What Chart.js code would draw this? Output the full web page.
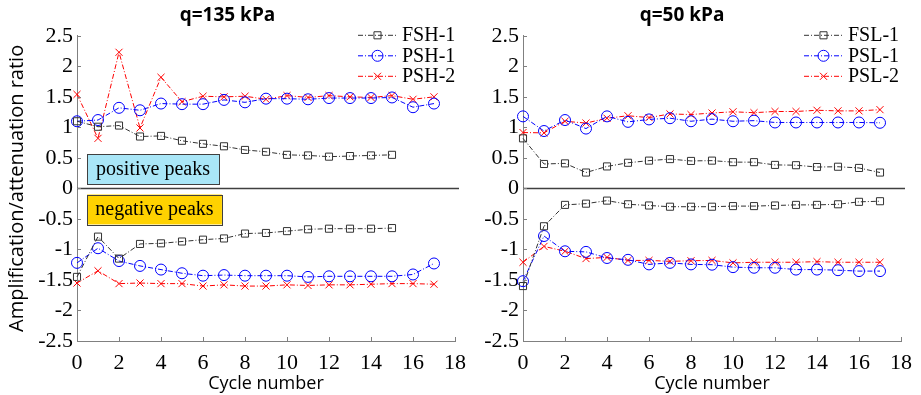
<!DOCTYPE html>
<html>
<head>
<meta charset="utf-8">
<script src="https://cdn.jsdelivr.net/npm/chart.js@4"></script>
<style>
  body { margin: 0; background: #fff; }
  #wrap { position: relative; width: 921px; height: 395px; }
  canvas { position: absolute; left: 0; top: 0; }
</style>
</head>
<body>
<div id="wrap">
  <canvas id="leftChart" width="921" height="395"></canvas>
  <canvas id="rightChart" width="921" height="395"></canvas>
</div>
<script>
// cycle numbers
const cycles = [0, 1, 2, 3, 4, 5, 6, 7, 8, 9, 10, 11, 12, 13, 14, 15, 16, 17];
const xTicks = [0, 2, 4, 6, 8, 10, 12, 14, 16, 18];
const yTicks = [-2.5, -2, -1.5, -1, -0.5, 0, 0.5, 1, 1.5, 2, 2.5];

// q=135 kPa
const fsh1Pos = [1.10, 1.01, 1.03, 0.85, 0.86, 0.78, 0.73, 0.69, 0.63, 0.60, 0.55, 0.54, 0.52, 0.53, 0.54, 0.55];
const fsh1Neg = [-1.45, -0.79, -1.15, -0.91, -0.90, -0.87, -0.84, -0.82, -0.74, -0.73, -0.70, -0.67, -0.66, -0.66, -0.66, -0.65];
const psh1Pos = [1.10, 1.12, 1.32, 1.28, 1.39, 1.38, 1.38, 1.45, 1.41, 1.47, 1.47, 1.46, 1.48, 1.48, 1.48, 1.49, 1.33, 1.39];
const psh1Neg = [-1.22, -0.98, -1.19, -1.27, -1.33, -1.39, -1.43, -1.42, -1.43, -1.43, -1.43, -1.45, -1.44, -1.44, -1.44, -1.44, -1.41, -1.23];
const psh2Pos = [1.54, 0.82, 2.23, 0.99, 1.82, 1.42, 1.51, 1.50, 1.51, 1.46, 1.52, 1.49, 1.52, 1.50, 1.49, 1.52, 1.46, 1.50];
const psh2Neg = [-1.55, -1.35, -1.56, -1.55, -1.56, -1.56, -1.60, -1.58, -1.60, -1.60, -1.58, -1.59, -1.58, -1.58, -1.57, -1.56, -1.56, -1.57];

// q=50 kPa
const fsl1Pos = [0.82, 0.40, 0.41, 0.26, 0.36, 0.42, 0.455, 0.48, 0.45, 0.455, 0.43, 0.43, 0.385, 0.38, 0.35, 0.355, 0.335, 0.26];
const fsl1Neg = [-1.60, -0.62, -0.27, -0.25, -0.20, -0.26, -0.28, -0.30, -0.30, -0.30, -0.29, -0.29, -0.28, -0.27, -0.27, -0.26, -0.22, -0.21];
const psl1Pos = [1.18, 0.94, 1.12, 0.98, 1.18, 1.09, 1.13, 1.15, 1.10, 1.135, 1.10, 1.11, 1.08, 1.08, 1.08, 1.08, 1.08, 1.075];
const psl1Neg = [-1.52, -0.78, -1.03, -1.04, -1.14, -1.17, -1.245, -1.22, -1.245, -1.25, -1.29, -1.30, -1.30, -1.33, -1.33, -1.34, -1.355, -1.355];
const psl2Pos = [0.915, 0.91, 1.10, 1.07, 1.15, 1.19, 1.16, 1.22, 1.21, 1.235, 1.255, 1.24, 1.26, 1.26, 1.28, 1.27, 1.27, 1.29];
const psl2Neg = [-1.21, -0.95, -1.03, -1.15, -1.13, -1.18, -1.18, -1.195, -1.185, -1.18, -1.22, -1.21, -1.21, -1.21, -1.20, -1.21, -1.21, -1.21];

const leftNames = ['FSH-1', 'PSH-1', 'PSH-2'];
const rightNames = ['FSL-1', 'PSL-1', 'PSL-2'];

const SERIF = '"Liberation Serif", "Times New Roman", serif';
const SANS = '"Open Sans", "Liberation Sans", sans-serif';
const DASHDOT = [5, 2, 1, 2];

const styles = [
  { color: '#333333', point: 'rect', r: 5 },
  { color: '#0000ff', point: 'circle', r: 5.5 },
  { color: '#ff0000', point: 'crossRot', r: 5 }
];

function toPoints(vals) {
  return vals.map(function(v, i) { return { x: cycles[i], y: v }; });
}

function makeSet(vals, st) {
  return {
    data: toPoints(vals),
    borderColor: st.color,
    borderWidth: 1,
    borderDash: DASHDOT,
    pointStyle: st.point,
    pointRadius: st.r,
    pointBorderColor: st.color,
    pointBackgroundColor: 'rgba(0,0,0,0)',
    pointBorderWidth: 1,
    tension: 0,
    clip: false
  };
}

function drawMarker(ctx, st, x, y) {
  ctx.save();
  ctx.setLineDash([]);
  ctx.strokeStyle = st.color;
  ctx.lineWidth = 1;
  ctx.beginPath();
  if (st.point === 'rect') {
    const s = st.r * Math.SQRT1_2;
    ctx.rect(x - s, y - s, 2 * s, 2 * s);
  } else if (st.point === 'circle') {
    ctx.arc(x, y, st.r, 0, Math.PI * 2);
  } else {
    const s = st.r * Math.SQRT1_2;
    ctx.moveTo(x - s, y - s); ctx.lineTo(x + s, y + s);
    ctx.moveTo(x - s, y + s); ctx.lineTo(x + s, y - s);
  }
  ctx.stroke();
  ctx.restore();
}

// inward tick marks, zero line, legend and peak labels
const decorPlugin = {
  id: 'decor',
  afterDatasetsDraw: function(chart, args, opts) {
    const ctx = chart.ctx;
    const xs = chart.scales.x, ys = chart.scales.y;
    const area = chart.chartArea;
    ctx.save();
    // zero line
    ctx.strokeStyle = '#404040';
    ctx.lineWidth = 1.5;
    ctx.beginPath();
    const y0 = Math.round(ys.getPixelForValue(0)) + 0.5;
    ctx.moveTo(area.left, y0);
    ctx.lineTo(xs.getPixelForValue(18) + 4, y0);
    ctx.stroke();

    // ticks
    ctx.strokeStyle = '#808080';
    ctx.lineWidth = 1;
    ctx.beginPath();
    xs.ticks.forEach(function(t, i) {
      const px = Math.round(xs.getPixelForTick(i)) + 0.5;
      ctx.moveTo(px, area.bottom);
      ctx.lineTo(px, area.bottom - 4);
    });
    ys.ticks.forEach(function(t, i) {
      const py = Math.round(ys.getPixelForTick(i)) + 0.5;
      ctx.moveTo(area.left, py);
      ctx.lineTo(area.left + 4, py);
    });
    ctx.stroke();

    // peak boxes
    (opts.boxes || []).forEach(function(b) {
      const l = xs.getPixelForValue(b.x0), r = xs.getPixelForValue(b.x1);
      const t = ys.getPixelForValue(b.y0), bt = ys.getPixelForValue(b.y1);
      ctx.fillStyle = b.fill;
      ctx.fillRect(l, t, r - l, bt - t);
      ctx.strokeStyle = '#404040';
      ctx.lineWidth = 1;
      ctx.strokeRect(Math.round(l) + 0.5, Math.round(t) + 0.5, Math.round(r - l), Math.round(bt - t));
      ctx.fillStyle = '#000';
      ctx.font = '20px ' + SERIF;
      ctx.textAlign = 'center';
      ctx.textBaseline = 'middle';
      ctx.fillText(b.text, (l + r) / 2, (t + bt) / 2);
    });

    // legend
    const names = opts.names || [];
    const tx = area.right - 53;
    names.forEach(function(n, i) {
      const st = styles[i];
      const ly = area.top - 1 + i * 20.5;
      ctx.strokeStyle = st.color;
      ctx.lineWidth = 1;
      ctx.setLineDash(DASHDOT);
      ctx.beginPath();
      ctx.moveTo(tx - 44, ly + 0.5);
      ctx.lineTo(tx - 5, ly + 0.5);
      ctx.stroke();
      ctx.setLineDash([]);
      drawMarker(ctx, st, tx - 24.5, ly + 0.5);
      ctx.fillStyle = '#000';
      ctx.font = '20px ' + SERIF;
      ctx.textAlign = 'left';
      ctx.textBaseline = 'middle';
      ctx.fillText(n, tx, ly + 1);
    });
    ctx.restore();
  }
};

function makeChart(id, sets, title, names, showYTitle, padLeft, padRight, yWidth, boxes) {
  const ctx = document.getElementById(id).getContext('2d');
  return new Chart(ctx, {
    type: 'line',
    data: { datasets: sets },
    plugins: [decorPlugin],
    options: {
      responsive: false,
      animation: false,
      devicePixelRatio: 1,
      layout: { padding: { left: padLeft, right: padRight, top: 0, bottom: 0 } },
      plugins: {
        legend: { display: false },
        tooltip: { enabled: false },
        title: {
          display: true,
          text: title,
          color: '#000',
          font: { family: SANS, size: 19, weight: 'bold', lineHeight: 1.2 },
          padding: { top: 4, bottom: 9 }
        },
        decor: { names: names, boxes: boxes }
      },
      scales: {
        x: {
          type: 'linear',
          min: 0,
          max: 18,
          afterBuildTicks: function(s) { s.ticks = xTicks.map(function(v) { return { value: v }; }); },
          grid: { display: false, drawTicks: false },
          border: { display: true, color: '#808080', width: 1 },
          ticks: { color: '#000', font: { family: SERIF, size: 22 }, padding: 9, maxRotation: 0,
            callback: function(v) { return String(v); } },
          title: { display: true, text: 'Cycle number', color: '#000', font: { family: SANS, size: 18 }, padding: { top: 0, bottom: 0 } },
          afterFit: function(s) { s.height = 54; s.paddingLeft = 0; s.paddingRight = 0; }
        },
        y: {
          min: -2.5,
          max: 2.5,
          afterBuildTicks: function(s) { s.ticks = yTicks.map(function(v) { return { value: v }; }); },
          grid: { display: false, drawTicks: false },
          border: { display: true, color: '#808080', width: 1 },
          ticks: { color: '#000', font: { family: SERIF, size: 22 }, padding: 4,
            callback: function(v) { return String(v); } },
          title: { display: showYTitle, text: 'Amplification/attenuation ratio', color: '#000', font: { family: SANS, size: 20 }, padding: { top: 5, bottom: 0 } },
          afterFit: function(s) { s.width = yWidth; s.paddingTop = 0; s.paddingBottom = 0; }
        }
      }
    }
  });
}

const leftSets = [
  makeSet(fsh1Pos, styles[0]), makeSet(fsh1Neg, styles[0]),
  makeSet(psh1Pos, styles[1]), makeSet(psh1Neg, styles[1]),
  makeSet(psh2Pos, styles[2]), makeSet(psh2Neg, styles[2])
];
const rightSets = [
  makeSet(fsl1Pos, styles[0]), makeSet(fsl1Neg, styles[0]),
  makeSet(psl1Pos, styles[1]), makeSet(psl1Neg, styles[1]),
  makeSet(psl2Pos, styles[2]), makeSet(psl2Neg, styles[2])
];

const peakBoxes = [
  { text: 'positive peaks', x0: 0.48, x1: 6.76, y0: 0.56, y1: 0.066, fill: '#a9e6f7' },
  { text: 'negative peaks', x0: 0.48, x1: 6.9, y0: -0.1, y1: -0.59, fill: '#ffd200' }
];

makeChart('leftChart', leftSets, 'q=135 kPa', leftNames, true, 0, 921 - 455, 77, peakBoxes);
makeChart('rightChart', rightSets, 'q=50 kPa', rightNames, false, 463, 921 - 901, 60, []);
</script>
</body>
</html>
